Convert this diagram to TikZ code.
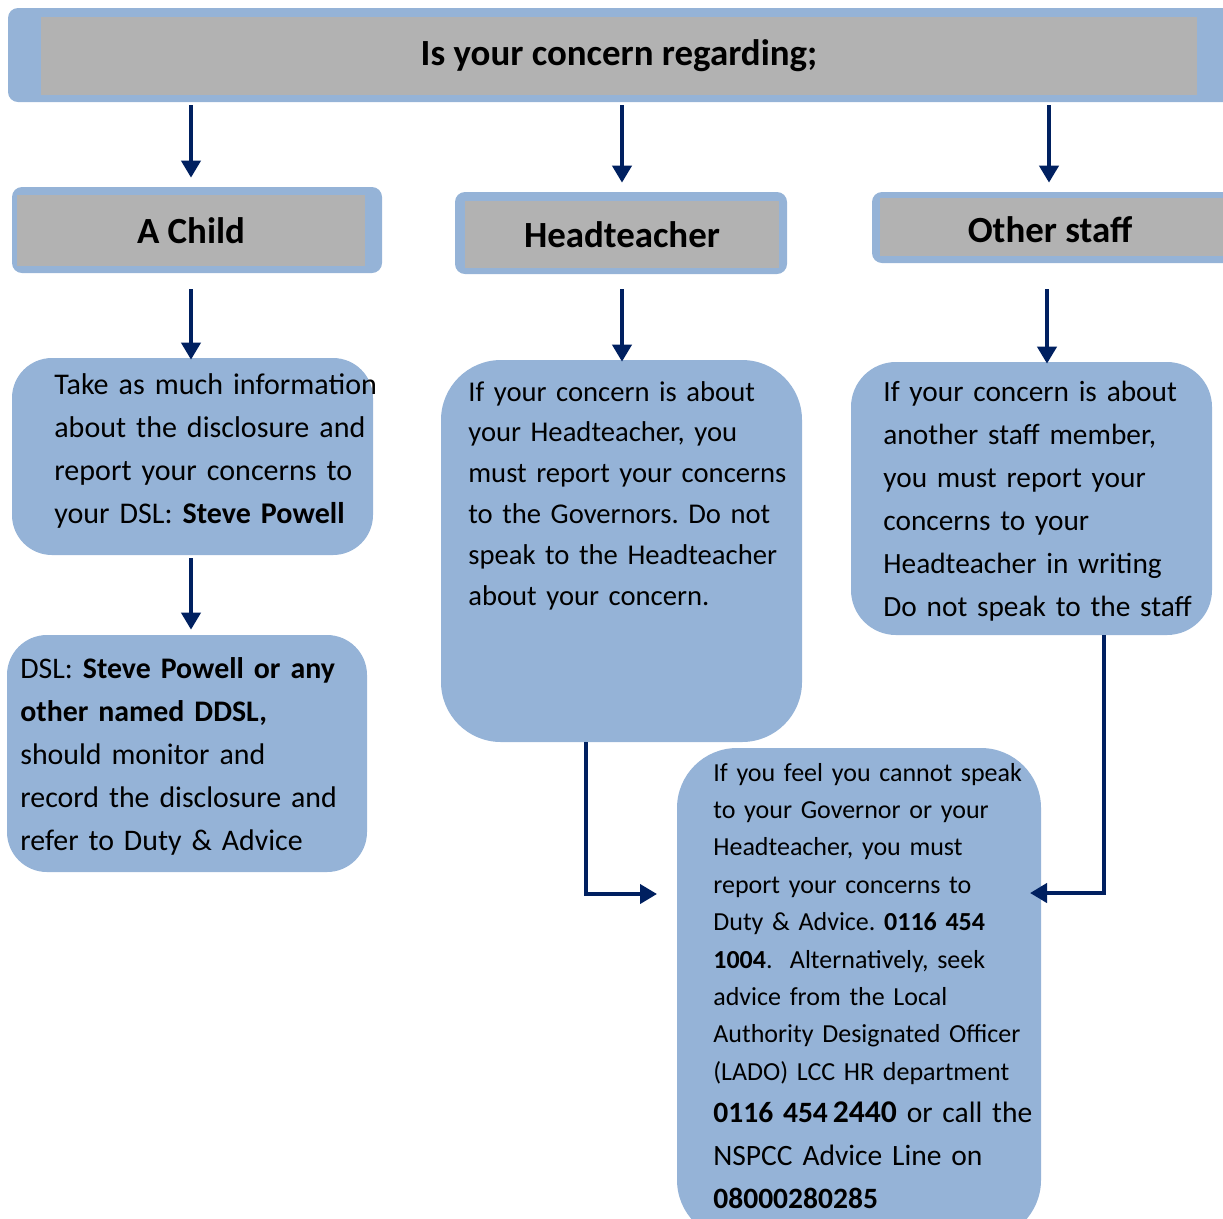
\documentclass[tikz,border=0pt]{standalone}
\usepackage{fontspec}
\setmainfont{Carlito}
\usetikzlibrary{arrows.meta}
\definecolor{frameblue}{HTML}{95B3D7}
\definecolor{headgrey}{HTML}{B2B2B2}
\definecolor{arrownavy}{HTML}{002060}
\newcommand{\pxu}{0.02cm}
\frenchspacing
\tikzset{
  frame/.style={fill=frameblue, rounded corners=0.2cm, inner sep=0},
  headfill/.style={fill=headgrey, inner sep=0},
  textbox/.style={fill=frameblue, inner sep=0},
  headtext/.style={font=\fontsize{21}{25}\selectfont\bfseries},
  bodytext/.style={anchor=base west, inner sep=0, align=left, text width=#1},
  flow/.style={draw=arrownavy, line width=0.08cm, -{Triangle[length=0.34cm,width=0.38cm]}}
}
\begin{document}
\begin{tikzpicture}[x=0.02cm, y=-0.02cm]
  \useasboundingbox (0,0) rectangle (1223,1218);
  \clip (0,0) rectangle (1223,1218);

  % The heading bar
  \node[frame, minimum width=1232*\pxu, minimum height=94*\pxu] (title) at (624,55) {};
  \node[headfill, minimum width=1156*\pxu, minimum height=78*\pxu] (titlein) at (619,56) {};
  \node[headtext] at (titlein) {Is your concern regarding;};

  % The three choices
  \node[frame, minimum width=370*\pxu, minimum height=86*\pxu] (child) at (197,230) {};
  \node[headfill, minimum width=348*\pxu, minimum height=71*\pxu] (childin) at (191,230.5) {};
  \node[headtext] at (childin) {A Child};

  \node[frame, minimum width=332*\pxu, minimum height=82*\pxu] (head) at (621,233) {};
  \node[headfill, minimum width=314*\pxu, minimum height=67*\pxu] (headin) at (622,234.5) {};
  \node[headtext] at (headin) {Headteacher};

  \node[frame, minimum width=368*\pxu, minimum height=71*\pxu] (other) at (1056,227.5) {};
  \node[headfill, minimum width=345*\pxu, minimum height=58*\pxu] (otherin) at (1052.5,227) {};
  \node[headtext] at (1050,230) {Other staff};

  % The text boxes
  \node[textbox, rounded corners=0.8cm, minimum width=361*\pxu, minimum height=197*\pxu] (childtext) at (192.5,456.5) {};
  \node[textbox, rounded corners=1.2cm, minimum width=361*\pxu, minimum height=382*\pxu] (headbody) at (621.5,551) {};
  \node[textbox, rounded corners=0.9cm, minimum width=361*\pxu, minimum height=273*\pxu] (otherbody) at (1031.5,498.5) {};
  \node[textbox, rounded corners=0.8cm, minimum width=360*\pxu, minimum height=237*\pxu] (dsl) at (187,753.5) {};
  \node[textbox, rounded corners=1.2cm, minimum width=364*\pxu, minimum height=492*\pxu] (advice) at (859,994) {};

  \node[bodytext=380*\pxu, font=\fontsize{17.1}{24.5}\selectfont] at (54,394)
    {Take as much information\\about the disclosure and\\report your concerns to\\your DSL: \textbf{Steve Powell}};
  \node[bodytext=380*\pxu, font=\fontsize{16.3}{23.3}\selectfont] at (468,401)
    {If your concern is about\\your Headteacher, you\\must report your concerns\\to the Governors. Do not\\speak to the Headteacher\\about your concern.};
  \node[bodytext=380*\pxu, font=\fontsize{16.7}{24.5}\selectfont] at (883,401)
    {If your concern is about\\another staff member,\\you must report your\\concerns to your\\Headteacher in writing\\Do not speak to the staff};
  \node[bodytext=380*\pxu, font=\fontsize{17}{24.5}\selectfont] at (20,678)
    {DSL: \textbf{Steve Powell or any}\\\textbf{other named DDSL,}\\should monitor and\\record the disclosure and\\refer to Duty \& Advice};
  \node[bodytext=380*\pxu, font=\fontsize{14.8}{21.3}\selectfont] at (713,781)
    {If you feel you cannot speak\\to your Governor or your\\Headteacher, you must\\report your concerns to\\Duty \& Advice. \textbf{0116 454}\\\textbf{1004}.~ Alternatively, seek\\advice from the Local\\Authority Designated Officer\\(LADO) LCC HR department};
  \node[bodytext=380*\pxu, font=\fontsize{16.8}{24.5}\selectfont] at (713,1122)
    {\textbf{0116 454\,{\fontsize{18}{24}\selectfont 2440}} or call the\\NSPCC Advice Line on\\\textbf{08000280285}};

  % Arrows between the boxes
  \draw[flow, shorten <=3*\pxu, shorten >=9*\pxu] (title.south -| childin) -- (child.north -| childin);
  \draw[flow, shorten <=3*\pxu, shorten >=9*\pxu] (title.south -| headin) -- (head.north -| headin);
  \draw[flow, shorten <=3*\pxu, shorten >=9*\pxu] (title.south -| 1049,0) -- (other.north -| 1049,0);

  \draw[flow, shorten <=16*\pxu, shorten >=-2*\pxu] (child.south -| childin) -- (childtext.north -| childin);
  \draw[flow, shorten <=15*\pxu, shorten >=-2*\pxu] (head.south -| headin) -- (headbody.north -| headin);
  \draw[flow, shorten <=26*\pxu, shorten >=-2*\pxu] (other.south -| 1047,0) -- (otherbody.north -| 1047,0);

  \draw[flow, shorten <=3*\pxu, shorten >=5*\pxu] (childtext.south -| childin) -- (dsl.north -| childin);

  % Elbow arrows into the advice box
  \coordinate (hdrop) at (headbody.south -| 586,0);
  \coordinate (hin) at (657,894);
  \coordinate (odrop) at (otherbody.south -| 1104,0);
  \coordinate (oin) at (1030,893);
  \draw[flow] (hdrop) |- (hin);
  \draw[flow] (odrop) |- (oin);
\end{tikzpicture}
\end{document}
